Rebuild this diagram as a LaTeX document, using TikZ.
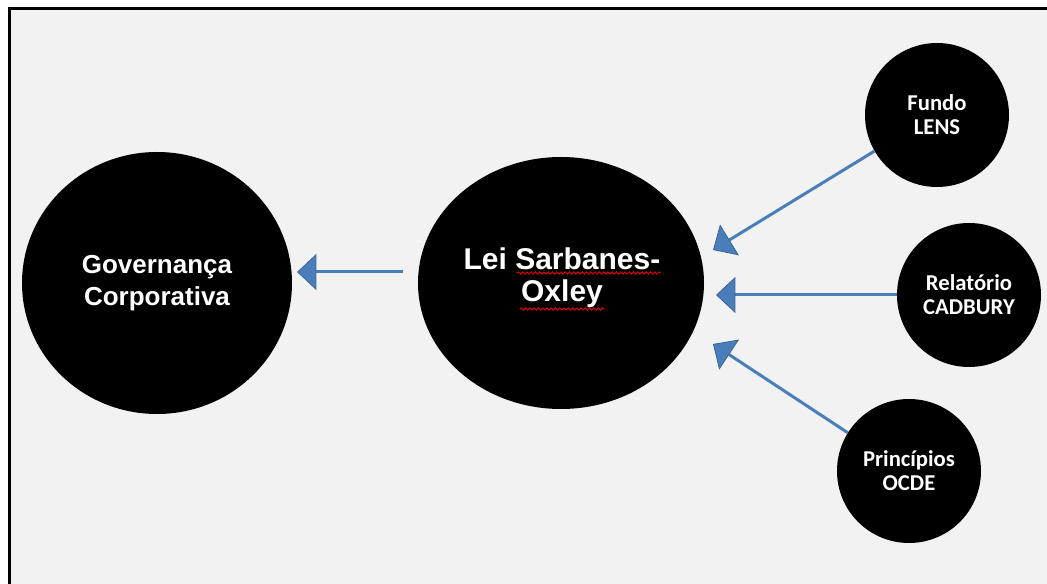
\documentclass[tikz,border=0pt]{standalone}
\usepackage{fontspec}
\setmainfont{Liberation Sans}
\newfontfamily\smallsans{Carlito}
\usetikzlibrary{arrows.meta,shapes.geometric,decorations.pathmorphing}
\definecolor{panel}{HTML}{F2F2F2}
\definecolor{linkblue}{HTML}{4A7EBB}
\definecolor{tipedge}{HTML}{3A6595}
\begin{document}
\begin{tikzpicture}[x=0.75pt,y=-0.75pt,
  blob/.style={shape=ellipse,fill=black,draw=none,text=white,align=center,inner sep=0pt},
  caption/.style={text=white,align=center,inner sep=0pt},
  bigtext/.style={font=\bfseries\fontsize{19.5}{24.5}\selectfont},
  midtext/.style={font=\bfseries\fontsize{22.5}{24}\selectfont},
  smalltext/.style={font=\smallsans\bfseries\fontsize{17}{18}\selectfont},
  link/.style={draw=linkblue,line width=2.25pt,
    -{Triangle[length=14.5pt,width=27pt,fill=linkblue,color=tipedge,line width=0.6pt]}},
  squiggle/.style={draw=red,line width=0.6pt,decorate,
    decoration={snake,amplitude=0.9pt,segment length=3.2pt}}]
% page and panel
\useasboundingbox (0,0) rectangle (1047,584);
\fill[white] (0,0) rectangle (1047,584);
\begin{scope}
\clip (0,0) rectangle (1047,584);
\filldraw[fill=panel,draw=black,line width=2.25pt] (9,9) rectangle (1070,620);
\end{scope}

% bubbles
\node[blob,bigtext,minimum width=202.5pt,minimum height=196.5pt] (gov) at (157,283)
  {Governança\\Corporativa};
\node[blob,minimum width=214.5pt,minimum height=189pt] (sox) at (561,283) {};
\node[caption,midtext] (soxtext) at (562,278) {Lei Sarbanes-\\Oxley};
\node[blob,smalltext,shape=circle,minimum size=108pt] (lens) at (937,115) {Fundo\\LENS};
\node[blob,smalltext,shape=circle,minimum size=108pt] (cad) at (969,295) {Relatório\\CADBURY};
\node[blob,smalltext,shape=circle,minimum size=108pt] (ocde) at (909,471) {Princípios\\OCDE};

% spell-check underlines
\coordinate (sq1a) at (517,273); \coordinate (sq1b) at (661,273);
\coordinate (sq2a) at (520,309); \coordinate (sq2b) at (605,309);
\path[squiggle] (sq1a) -- (sq1b);
\path[squiggle] (sq2a) -- (sq2b);

% arrow end points
\coordinate (govin) at (297,272);
\coordinate (soxout) at (403,272);
\coordinate (lensin) at (713,250);
\coordinate (cadin) at (716,295);
\coordinate (ocdein) at (713,344);

% connectors
\draw[link] (soxout) -- (govin);
\draw[link] (lens.210) -- (lensin);
\draw[link] (cad.west) -- (cadin);
\draw[link] (ocde.148) -- (ocdein);
\end{tikzpicture}
\end{document}
